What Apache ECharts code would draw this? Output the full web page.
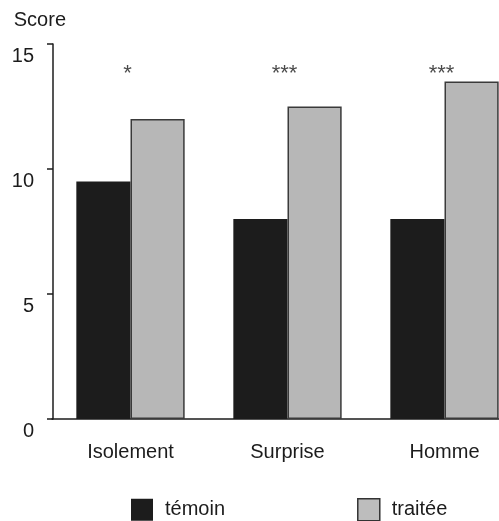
<!DOCTYPE html>
<html>
<head>
<meta charset="utf-8">
<script src="https://cdn.jsdelivr.net/npm/echarts@6/dist/echarts.min.js"></script>
<style>
  html, body { margin: 0; padding: 0; background: #fff; overflow: hidden; }
  #chart { width: 525px; height: 521px; }
</style>
</head>
<body>
<div id="chart"></div>
<script>
// Scores per condition, control vs treated group
const categories = ['Isolement', 'Surprise', 'Homme'];
const temoin = [9.5, 8, 8];
const traitee = [12, 12.5, 13.5];
const significance = ['*', '***', '***'];
const significanceLevel = [13.9, 13.9, 13.9];
const yTicks = [0, 5, 10, 15];

const FONT = '"Liberation Sans", Arial, Helvetica, sans-serif';
const INK = '#1c1c1c';

const chart = echarts.init(document.getElementById('chart'), null, { renderer: 'canvas' });

chart.setOption({
  animation: false,
  backgroundColor: '#ffffff',
  textStyle: { fontFamily: FONT, color: INK },
  grid: { left: 52, top: 44, width: 471, height: 375, containLabel: false },
  xAxis: {
    type: 'category',
    data: categories,
    axisLine: { show: true, lineStyle: { color: INK, width: 1.5 } },
    axisTick: { show: false },
    axisLabel: { fontSize: 20, color: INK, margin: 23, fontFamily: FONT }
  },
  yAxis: {
    type: 'value',
    name: 'Score',
    nameLocation: 'end',
    nameGap: 14,
    nameTextStyle: { fontSize: 20, color: INK, align: 'right', padding: [0, -13, 0, 0], fontFamily: FONT },
    min: yTicks[0],
    max: yTicks[yTicks.length - 1],
    interval: 5,
    offset: -1,
    splitLine: { show: false },
    axisLine: { show: true, lineStyle: { color: INK, width: 1.5 } },
    axisTick: { show: true, inside: false, length: 6, lineStyle: { color: INK, width: 1.5 } },
    axisLabel: {
      fontSize: 20, color: INK, margin: 19, verticalAlign: 'top',
      padding: [2, 0, 0, 0], fontFamily: FONT
    }
  },
  legend: {
    left: 131,
    top: 498,
    padding: 0,
    itemWidth: 22,
    itemHeight: 22,
    itemGap: 132,
    icon: 'rect',
    textStyle: { fontSize: 20, color: INK, fontFamily: FONT, padding: [0, 0, 0, 7] },
    data: [
      { name: 'témoin', itemStyle: { color: INK, borderWidth: 0 } },
      { name: 'traitée', itemStyle: { color: '#bdbdbd', borderColor: '#333', borderWidth: 1.5 } }
    ]
  },
  series: [
    {
      name: 'témoin',
      type: 'bar',
      data: temoin,
      barGap: '0%',
      barCategoryGap: '31%',
      itemStyle: { color: INK }
    },
    {
      name: 'traitée',
      type: 'bar',
      data: traitee,
      barGap: '0%',
      barCategoryGap: '31%',
      itemStyle: { color: '#b7b7b7', borderColor: '#3a3a3a', borderWidth: 1.5 }
    },
    {
      name: 'signif',
      type: 'scatter',
      data: significanceLevel,
      symbolSize: 0,
      silent: true,
      label: {
        show: true,
        position: 'inside',
        offset: [-3, 2],
        fontSize: 22,
        color: INK,
        fontFamily: FONT,
        formatter: p => significance[p.dataIndex]
      }
    }
  ]
});
</script>
</body>
</html>
